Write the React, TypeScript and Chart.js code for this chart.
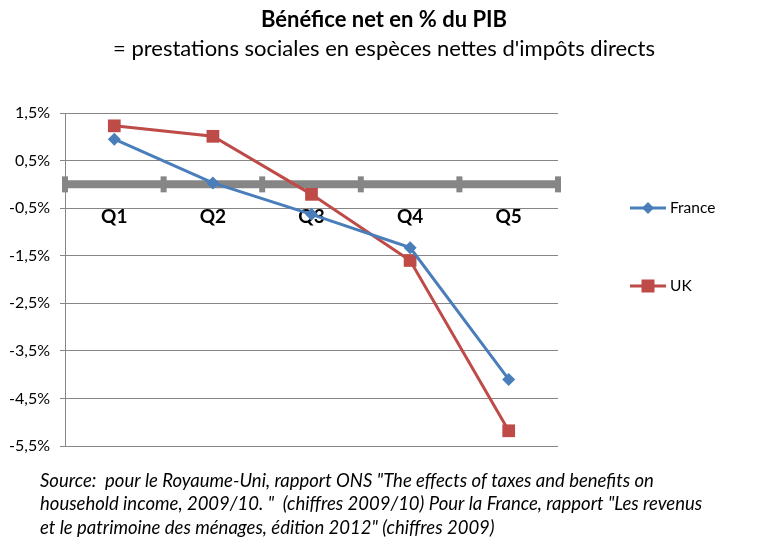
import React, { useEffect, useRef } from "react";
import { Chart, registerables } from "chart.js";

Chart.register(...registerables);

const categories = ["Q1", "Q2", "Q3", "Q4", "Q5"];
const franceValues = [0.95, 0.03, -0.63, -1.33, -4.1];
const ukValues = [1.23, 1.01, -0.21, -1.6, -5.18];
const seriesNames = ["France", "UK"];
const yMin = -5.5;
const yMax = 1.5;
const yStep = 1;

const titleText = "Bénéfice net en % du PIB";
const subtitleText = "= prestations sociales en espèces nettes d'impôts directs";
const sourceLines = [
  'Source:  pour le Royaume-Uni, rapport ONS "The effects of taxes and benefits on',
  'household income, 2009/10. "  (chiffres 2009/10) Pour la France, rapport "Les revenus',
  'et le patrimoine des ménages, édition 2012" (chiffres 2009)',
];

const FONT = "Lato, 'Open Sans', sans-serif";
const BLUE = "#4A7EBB";
const RED = "#BE4B48";
const GREY = "#868686";

function drawMarker(ctx: CanvasRenderingContext2D, kind: string, x: number, y: number, color: string) {
  ctx.save();
  ctx.fillStyle = color;
  ctx.beginPath();
  if (kind === "diamond") {
    const r = 6;
    ctx.moveTo(x, y - r);
    ctx.lineTo(x + r, y);
    ctx.lineTo(x, y + r);
    ctx.lineTo(x - r, y);
    ctx.closePath();
  } else {
    const s = 6.5;
    ctx.rect(x - s, y - s, 2 * s, 2 * s);
  }
  ctx.fill();
  ctx.restore();
}

const decorPlugin = {
  id: "decor",
  beforeDatasetsDraw(chart: any) {
    const { ctx, chartArea } = chart;
    const x = chart.scales.x;
    const y = chart.scales.y;
    const y0 = y.getPixelForValue(0);
    ctx.save();
    ctx.strokeStyle = GREY;
    ctx.lineWidth = 8;
    ctx.beginPath();
    ctx.moveTo(chartArea.left, y0);
    ctx.lineTo(chartArea.right, y0);
    ctx.stroke();
    const n = categories.length;
    const half = (x.getPixelForValue(1) - x.getPixelForValue(0)) / 2;
    ctx.lineWidth = 6;
    for (let i = 0; i <= n; i++) {
      const px = i < n ? x.getPixelForValue(i) - half : x.getPixelForValue(n - 1) + half;
      ctx.beginPath();
      ctx.moveTo(px, y0 - 8);
      ctx.lineTo(px, y0 + 8);
      ctx.stroke();
    }
    ctx.fillStyle = "#000";
    ctx.font = `bold 19px ${FONT}`;
    ctx.textAlign = "center";
    ctx.textBaseline = "middle";
    categories.forEach((c, i) => ctx.fillText(c, x.getPixelForValue(i), y0 + 33));
    ctx.restore();
  },
  afterDraw(chart: any) {
    const { ctx, chartArea } = chart;
    ctx.save();
    ctx.fillStyle = "#000";
    ctx.textAlign = "center";
    ctx.textBaseline = "middle";
    ctx.font = `bold 22px ${FONT}`;
    ctx.fillText(titleText, 384, 20);
    ctx.font = `22px ${FONT}`;
    ctx.fillText(subtitleText, 384, 49);

    ctx.textAlign = "left";
    ctx.font = `italic 18.5px ${FONT}`;
    sourceLines.forEach((l, i) => ctx.fillText(l, 40, 481 + i * 23.5));

    // legend
    const colors = [BLUE, RED];
    const kinds = ["diamond", "square"];
    const legendY = [208, 286];
    const lx = chartArea.right + 72;
    seriesNames.forEach((name, i) => {
      ctx.strokeStyle = colors[i];
      ctx.lineWidth = 3;
      ctx.beginPath();
      ctx.moveTo(lx, legendY[i]);
      ctx.lineTo(lx + 36, legendY[i]);
      ctx.stroke();
      drawMarker(ctx, kinds[i], lx + 18, legendY[i], colors[i]);
      ctx.fillStyle = "#000";
      ctx.font = `15.5px ${FONT}`;
      ctx.fillText(name, lx + 40, legendY[i]);
    });
    ctx.restore();
  },
};

export default function App() {
  const ref = useRef<HTMLCanvasElement | null>(null);
  useEffect(() => {
    if (!ref.current) return;
    const chart = new Chart(ref.current, {
      type: "line",
      data: {
        labels: categories,
        datasets: [
          {
            label: seriesNames[0],
            data: franceValues,
            borderColor: BLUE,
            backgroundColor: BLUE,
            borderWidth: 3,
            pointStyle: "rectRot",
            pointRadius: 6.5,
            pointBorderWidth: 0,
            tension: 0,
          },
          {
            label: seriesNames[1],
            data: ukValues,
            borderColor: RED,
            backgroundColor: RED,
            borderWidth: 3,
            pointStyle: "rect",
            pointRadius: 9,
            pointBorderWidth: 0,
            tension: 0,
          },
        ],
      },
      plugins: [decorPlugin],
      options: {
        animation: false,
        responsive: true,
        maintainAspectRatio: false,
        layout: { padding: { top: 113, right: 223, bottom: 100, left: 0 } },
        plugins: {
          legend: { display: false },
          title: { display: false },
          tooltip: { enabled: false },
        },
        scales: {
          x: {
            type: "category",
            offset: true,
            display: false,
          },
          y: {
            min: yMin,
            max: yMax,
            afterFit: (scale: any) => {
              scale.width = 65;
            },
            ticks: {
              stepSize: yStep,
              color: "#000",
              font: { family: FONT, size: 16 },
              padding: 10,
              callback: (v: any) => Number(v).toFixed(1).replace(".", ",") + "%",
            },
            grid: {
              color: GREY,
              lineWidth: 1,
              tickLength: 5,
              tickColor: GREY,
            },
            border: { display: true, color: GREY, width: 1 },
          },
        },
      },
    });
    return () => chart.destroy();
  }, []);
  return (
    <div style={{ position: "absolute", left: 0, top: 0, width: 781, height: 546, background: "#fff" }}>
      <canvas ref={ref} />
    </div>
  );
}
